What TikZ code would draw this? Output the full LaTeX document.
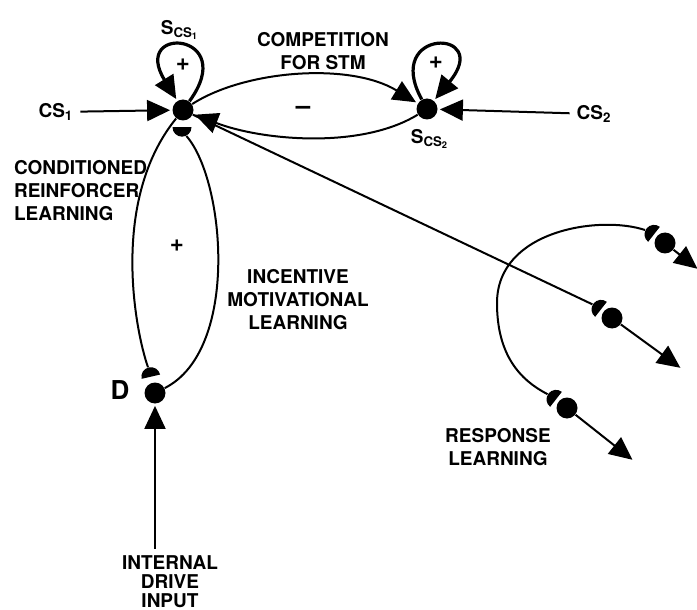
\documentclass[tikz,border=0pt]{standalone}
\usepackage{fontspec}
\setmainfont{TeX Gyre Heros}
\usetikzlibrary{arrows.meta, shapes.geometric}

\begin{document}
\begin{tikzpicture}[
  x=0.5pt, y=-0.5pt,
  every node/.style={font=\fontsize{9.5}{11.5}\selectfont\bfseries},
  cell/.style={circle, fill, inner sep=0pt, minimum size=10.5pt},
  knob/.style={semicircle, fill, inner sep=0pt, minimum width=9.5pt, minimum height=0pt},
  link/.style={line width=1pt},
  arrow/.style={-{Triangle[length=11.5pt, width=10.5pt]}, line width=1pt, shorten >=1pt},
  loopy/.style={-{Triangle[length=11.5pt, width=10.5pt]}, line width=1.6pt, shorten >=1pt},
  big/.style={font=\fontsize{13}{15}\selectfont\bfseries},
  sign/.style={font=\fontsize{12}{14}\selectfont\bfseries}
]
\useasboundingbox (0,0) rectangle (697,610);

% STM cells
\node[cell] (s1) at (183,110) {};
\node[cell] (s2) at (427,109) {};
\node[cell] (d) at (155,393) {};

\node (s1lab) at (180,30) {S\textsubscript{CS\textsubscript{1}}};
\node (s2lab) at (430,139) {S\textsubscript{CS\textsubscript{2}}};
\node[big] (dlab) at (120,390) {D};

% Cue inputs
\node (cs1) at (56,112) {CS\textsubscript{1}};
\node (cs2) at (594,114) {CS\textsubscript{2}};
\draw[arrow] (cs1) -- (s1);
\draw[arrow] (cs2) -- (s2);

% Self excitation
\draw[loopy] (s1) .. controls (240,32) and (130,24) .. (s1);
\node[sign] (plus1) at (183,65) {+};
\draw[loopy] (s2) .. controls (382,27) and (494,28) .. (s2);
\node[sign] (plus2) at (436,63) {+};

% Competition for STM
\draw[arrow] (s1) .. controls (245,70) and (350,62) .. (s2);
\draw[arrow] (s2) .. controls (360,150) and (260,140) .. (s1);
\node[align=center] (comp) at (323,51) {COMPETITION\\FOR STM};
\node[big] (minus) at (303,110) {--};

% Drive loop
\node[knob, rotate=180] (ks1) at (182,131) {};
\node[knob, rotate=13] (kd) at (150,373) {};
\draw[link] (s1) .. controls (110,200) and (135,330) .. (kd);
\draw[link] (d) .. controls (240,350) and (225,180) .. (ks1);
\node[sign] (plus3) at (177,246) {+};
\node[anchor=west, align=left] (crl) at (7,191) {CONDITIONED\\REINFORCER\\LEARNING};
\node[align=center] (iml) at (298,300) {INCENTIVE\\MOTIVATIONAL\\LEARNING};

% Drive input
\node[align=center, font=\fontsize{9.5}{9.5}\selectfont\bfseries] (input) at (170,582) {INTERNAL\\DRIVE\\INPUT};
\draw[arrow] (input.north -| d) -- (d);

% Response learning
\node[cell] (r1) at (665,243) {};
\node[cell] (r2) at (612,318) {};
\node[cell] (r3) at (567,408) {};
\node[knob, rotate=52] (k1) at (651,232) {};
\node[knob, rotate=52] (k2) at (598,307) {};
\node[knob, rotate=52] (k3) at (553,397) {};
\coordinate (o1) at (699,270);
\coordinate (o2) at (682,369);
\coordinate (o3) at (634,461);
\draw[arrow] (r1) -- (o1);
\draw[arrow] (r2) -- (o2);
\draw[arrow] (r3) -- (o3);
\draw[link] (s1) -- (k2);
\draw[link] (k1) .. controls (600,215) and (497,230) .. (497,303)
  .. controls (497,355) and (520,380) .. (k3);
\node[align=center] (rl) at (498,447) {RESPONSE\\LEARNING};

\end{tikzpicture}
\end{document}
